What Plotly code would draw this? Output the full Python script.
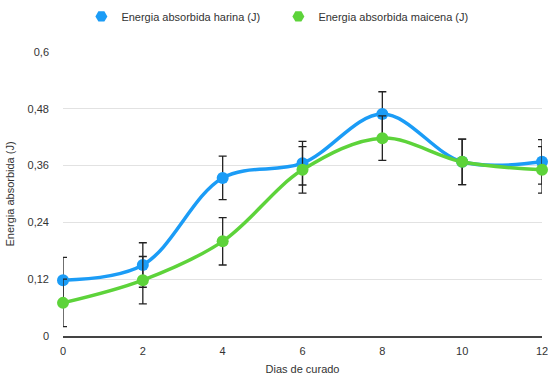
import plotly.graph_objects as go

dias = [0, 2, 4, 6, 8, 10, 12]
harina = [0.118, 0.150, 0.334, 0.365, 0.469, 0.368, 0.368]
maicena = [0.070, 0.118, 0.200, 0.351, 0.418, 0.368, 0.351]
err_harina = [0.048, 0.047, 0.046, 0.046, 0.047, 0.048, 0.047]
err_maicena = [0.050, 0.050, 0.050, 0.049, 0.047, 0.048, 0.049]
yticks = [0, 0.12, 0.24, 0.36, 0.48, 0.6]
yticktext = ["0", "0,12", "0,24", "0,36", "0,48", "0,6"]
xticks = [0, 2, 4, 6, 8, 10, 12]

blue = "#1b9cf6"
green = "#5dd33a"
font = "Liberation Sans, Arial, sans-serif"

fig = go.Figure()
series = [
    ("Energia absorbida harina (J)", harina, err_harina, blue),
    ("Energia absorbida maicena (J)", maicena, err_maicena, green),
]
for name, vals, errs, col in series:
    fig.add_trace(go.Scatter(
        x=dias, y=vals, name=name, mode="lines+markers", showlegend=False,
        line=dict(color=col, width=3.5, shape="spline", smoothing=1.0),
        marker=dict(color=col, size=12),
        error_y=dict(type="data", array=errs, visible=True, color="#222222",
                     thickness=1.3, width=4),
        cliponaxis=False,
    ))
for name, vals, errs, col in series:
    fig.add_trace(go.Scatter(
        x=[None], y=[None], name=name, mode="markers", showlegend=True,
        marker=dict(color=col, size=9, symbol="hexagon2"),
    ))

fig.update_layout(
    width=548, height=378,
    margin=dict(l=63, r=6, t=52, b=42, autoexpand=False),
    paper_bgcolor="white", plot_bgcolor="white",
    font=dict(family=font, size=11, color="#333333"),
    showlegend=True,
    legend=dict(orientation="h", x=0.508, xanchor="center", xref="container",
                y=0.995, yanchor="top", yref="container",
                font=dict(size=11, color="#333333"),
                itemsizing="constant", itemwidth=30,
                entrywidth=152, entrywidthmode="pixels",
                tracegroupgap=0,
                traceorder="normal"),
    xaxis=dict(range=[0, 12], tickvals=xticks, showgrid=False, automargin=False,
               zeroline=False, showline=True, linecolor="#444444", linewidth=1.5,
               ticks="", ticklabeloverflow="allow", ticklabelstandoff=4,
               tickfont=dict(size=11, color="#333333"),
               title=dict(text="Dias de curado", font=dict(size=11, color="#333333"), standoff=9)),
    yaxis=dict(range=[0, 0.6], tickvals=yticks, ticktext=yticktext, automargin=False,
               showgrid=True, gridcolor="#e2e2e2", gridwidth=1,
               zeroline=False, showline=False, ticks="", ticklabelstandoff=13,
               tickfont=dict(size=11, color="#333333"),
               title=dict(text="Energia absorbida (J)", font=dict(size=11, color="#333333"), standoff=10)),
)

fig.write_html("out.html")
